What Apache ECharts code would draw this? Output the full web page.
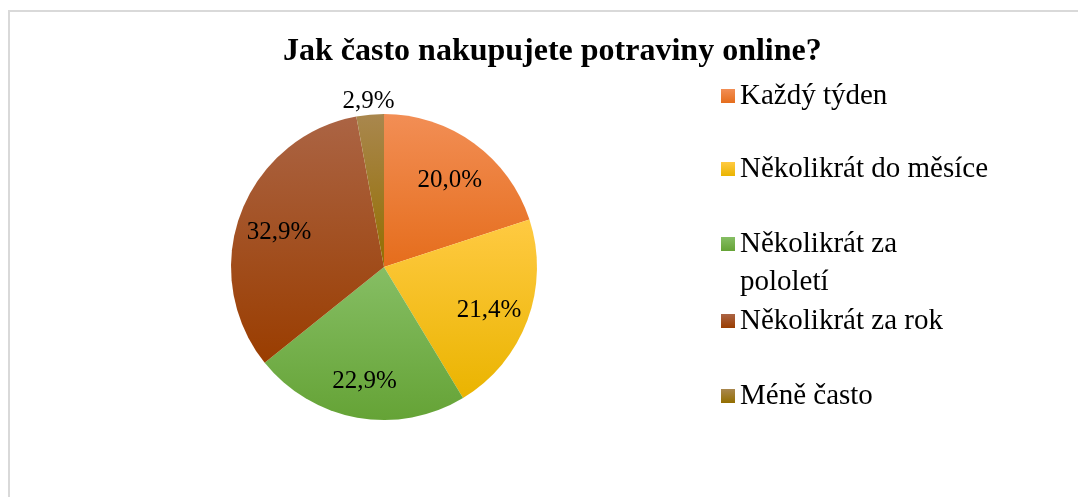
<!DOCTYPE html>
<html><head><meta charset="utf-8">
<script src="https://cdn.jsdelivr.net/npm/echarts@6/dist/echarts.min.js"></script>
<style>html,body{margin:0;padding:0;background:#fff}#c{width:1078px;height:497px}</style>
</head><body><div id="c"></div>
<script>
const titleText = 'Jak často nakupujete potraviny online?';
const categories = ['Každý týden', 'Několikrát do měsíce', 'Několikrát za pololetí', 'Několikrát za rok', 'Méně často'];
const legendLabels = ['Každý týden', 'Několikrát do měsíce', 'Několikrát za\npololetí', 'Několikrát za rok', 'Méně často'];
const values = [20.0, 21.4, 22.9, 32.9, 2.9];
const colorsTop = ['#F28E55', '#FFCA42', '#86BE64', '#AB6444', '#A9874E'];
const colorsBottom = ['#E56D1C', '#EAB400', '#65A336', '#9A3D00', '#936E00'];

const font = '"Liberation Serif", "Times New Roman", serif';
const fmt = v => v.toFixed(1).replace('.', ',') + '%';
const grad = i => new echarts.graphic.LinearGradient(0, 0, 0, 1, [
  { offset: 0, color: colorsTop[i] }, { offset: 1, color: colorsBottom[i] }
]);

const legendCenters = [96, 169, 244, 321, 396];
const LH = 38;
const legends = categories.map((name, i) => {
  const twoLine = legendLabels[i].indexOf('\n') >= 0;
  return {
    data: [name], orient: 'vertical', left: 721,
    top: twoLine ? legendCenters[i] - LH * 1.5 : legendCenters[i] - LH / 2,
    padding: 0, icon: 'rect', itemWidth: 14, itemHeight: 14, itemGap: 0,
    selectedMode: false,
    // a leading empty line keeps the icon level with the first visible line
    formatter: () => (twoLine ? '\n' : '') + legendLabels[i],
    textStyle: { fontFamily: font, fontSize: 29, color: '#000', lineHeight: LH }
  };
});

const baseData = categories.map((n, i) => ({ name: n, value: values[i], itemStyle: { color: grad(i) } }));
const innerLabelData = categories.map((n, i) => ({ name: n, value: values[i],
  label: { show: values[i] >= 5 } }));
const outerLabelData = categories.map((n, i) => ({ name: n, value: values[i],
  label: { show: values[i] < 5 } }));

const labelStyle = { fontFamily: font, fontSize: 25, color: '#000', position: 'inside',
  offset: [0, 4], formatter: p => fmt(p.value) };

const chart = echarts.init(document.getElementById('c'), null, { renderer: 'canvas' });
chart.setOption({
  animation: false,
  backgroundColor: '#fff',
  title: {
    text: titleText, left: 278, top: 31, textAlign: 'left',
    textStyle: { fontFamily: font, fontSize: 32, fontWeight: 'bold', color: '#000' }
  },
  graphic: [{
    type: 'rect', shape: { x: 9, y: 11, width: 1200, height: 700 },
    style: { fill: 'none', stroke: '#d9d9d9', lineWidth: 2 }, silent: true, z: -1
  }],
  legend: legends,
  series: [
    {
      type: 'pie', center: [384, 267], radius: [0, 153], startAngle: 90, clockwise: true,
      data: baseData, label: { show: false }, labelLine: { show: false },
      itemStyle: { borderWidth: 0 }, emphasis: { disabled: true }
    },
    {
      type: 'pie', center: [384, 267], radius: [65, 153], startAngle: 90, clockwise: true,
      silent: true, data: innerLabelData, itemStyle: { color: 'rgba(0,0,0,0)', borderWidth: 0 },
      label: labelStyle, labelLine: { show: false }, emphasis: { disabled: true }
    },
    {
      type: 'pie', center: [384, 267], radius: [153, 182], startAngle: 90, clockwise: true,
      silent: true, data: outerLabelData, itemStyle: { color: 'rgba(0,0,0,0)', borderWidth: 0 },
      label: labelStyle, labelLine: { show: false }, emphasis: { disabled: true }
    }
  ]
});
</script></body></html>
